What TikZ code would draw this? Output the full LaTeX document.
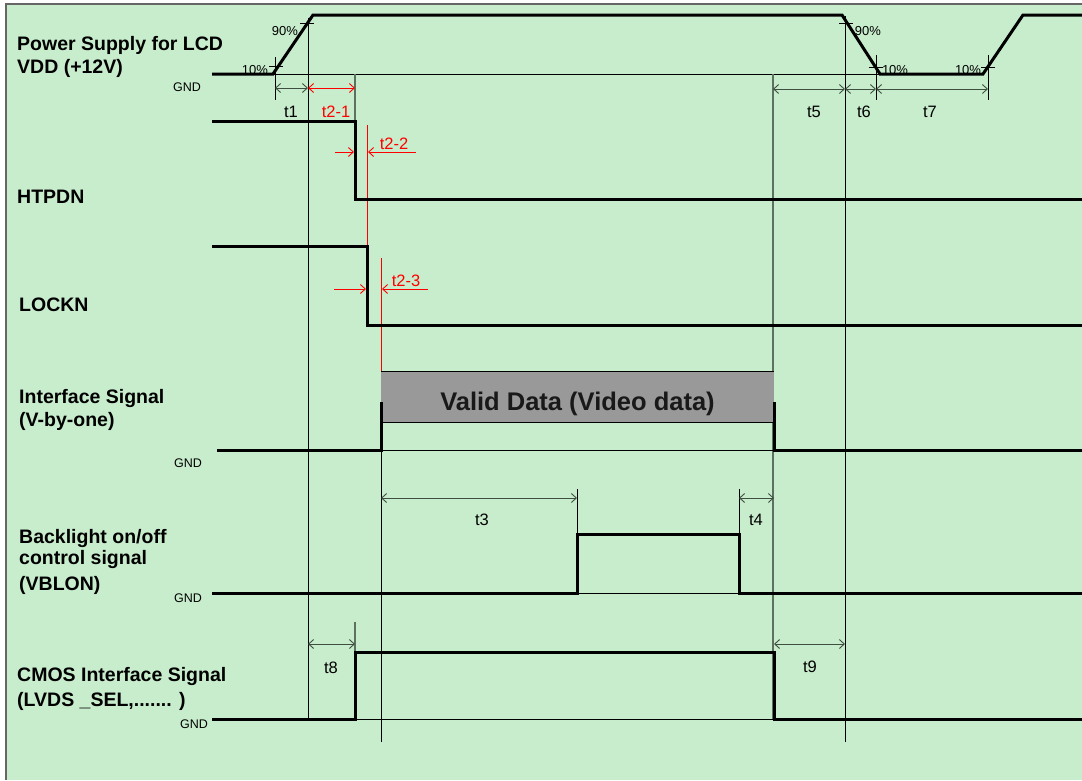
\documentclass[tikz,border=0pt]{standalone}
\usepackage{fontspec}
\setmainfont{Liberation Sans}
\usetikzlibrary{arrows.meta}
\definecolor{bg}{HTML}{C8EDCC}
\definecolor{boxgray}{HTML}{999999}
\definecolor{framecol}{HTML}{666666}
\definecolor{dimcol}{HTML}{3E4E40}
\definecolor{softcol}{HTML}{5C725E}
\definecolor{tred}{HTML}{FF0000}
\tikzset{
  sig/.style={line width=3pt, line join=miter},
  guide/.style={line width=0.9pt, black},
  softguide/.style={line width=1.2pt, softcol},
  redguide/.style={line width=0.9pt, tred},
  barb/.tip={Straight Barb[length=5pt,width=9pt]},
  dimarrow/.style={line width=0.9pt, dimcol, barb-barb},
  reddim/.style={line width=0.9pt, tred, barb-barb},
  redpoint/.style={line width=0.9pt, tred, -barb},
  sigtext/.style={font=\fontsize{19.5}{22}\selectfont\bfseries, anchor=base west, inner sep=0pt},
  tlab/.style={font=\fontsize{16.5}{19}\selectfont, inner sep=0pt},
  redlab/.style={tlab, text=tred},
  pct/.style={font=\fontsize{13}{15}\selectfont, inner sep=0pt},
  gndlab/.style={font=\fontsize{12.5}{14}\selectfont, inner sep=0pt},
}
\begin{document}
\begin{tikzpicture}[x=1pt,y=-1pt]
\useasboundingbox (0,0) rectangle (1082,780);
\fill[white] (0,0) rectangle (1082,780);
\fill[bg] (6,4) rectangle (1082,780);
\draw[framecol, line width=2pt] (6,780) -- (6,4) -- (1082,4);

% ---------- guide lines ----------
\draw[guide] (273,74) -- (880,74);
\draw[guide] (275,57) -- (275,100);
\draw[guide] (308,18) -- (308,719);
\draw[softguide] (355,74) -- (355,121);
\draw[softguide] (773,74) -- (773,719);
\draw[guide] (845,16) -- (845,742);
\draw[guide] (876,55) -- (876,100);
\draw[guide] (988,55) -- (988,100);
\draw[guide] (381,422) -- (381,742);
\draw[softguide] (355,622) -- (355,652);
\draw[guide] (577,489) -- (577,534);
\draw[guide] (739,489) -- (739,534);
\draw[redguide] (367,125) -- (367,246);
\draw[redguide] (381,258) -- (381,372);
% percentage ticks
\draw[guide] (269,66) -- (283,66);
\draw[guide] (300,23) -- (314,23);
\draw[guide] (839,23) -- (853,23);
\draw[guide] (869,67) -- (883,67);
\draw[guide] (981,67) -- (995,67);

% ---------- thin baselines ----------
\draw[guide] (381,450) -- (774,450);
\draw[guide] (577,593) -- (739,593);
\draw[guide] (355,719) -- (774,719);

% ---------- valid data box ----------
\node[fill=boxgray, minimum width=393pt, minimum height=50pt, inner sep=0pt] (valid) at (577.5,397) {};
\draw[guide] (valid.north west) -- (valid.north east);
\draw[guide] (valid.south west) -- (valid.south east);
\node[font=\fontsize{25.5}{28}\selectfont\bfseries, text=black!90, anchor=base, inner sep=0pt] (validtext) at (577.5,410.5) {Valid Data (Video data)};

% ---------- signals ----------
\draw[sig] (212,74) -- (273,74) -- (313,15) -- (842,15) -- (880,74) -- (983,74) -- (1023,15) -- (1084,15);
\draw[sig] (212,121) -- (355,121) -- (355,199) -- (1084,199);
\draw[sig] (212,246) -- (367,246) -- (367,325) -- (1084,325);
\draw[sig] (217,450) -- (381,450) -- (381,402);
\draw[sig] (774,402) -- (774,450) -- (1084,450);
\draw[sig] (212,593) -- (577,593) -- (577,534) -- (739,534) -- (739,593) -- (1084,593);
\draw[sig] (212,719) -- (355,719) -- (355,652) -- (774,652) -- (774,719) -- (1084,719);

% ---------- dimension arrows ----------
\coordinate (a1) at (275,88);
\coordinate (a2) at (308,88);
\coordinate (a3) at (355,88);
\draw[dimarrow] (a1) -- (a2);
\draw[reddim] (a2) -- (a3);
\coordinate (b1) at (773,89);
\coordinate (b2) at (845,89);
\coordinate (b3) at (876,89);
\coordinate (b4) at (988,89);
\draw[dimarrow] (b1) -- (b2);
\draw[dimarrow] (b2) -- (b3);
\draw[dimarrow] (b3) -- (b4);
\coordinate (c1) at (335,152);
\coordinate (c2) at (354,152);
\coordinate (c3) at (416,152);
\coordinate (c4) at (368,152);
\draw[redpoint] (c1) -- (c2);
\draw[redpoint] (c3) -- (c4);
\coordinate (d1) at (334,289);
\coordinate (d2) at (366,289);
\coordinate (d3) at (428,289);
\coordinate (d4) at (382,289);
\draw[redpoint] (d1) -- (d2);
\draw[redpoint] (d3) -- (d4);
\coordinate (e1) at (381,498);
\coordinate (e2) at (577,498);
\coordinate (e3) at (739,498);
\coordinate (e4) at (774,498);
\draw[dimarrow] (e1) -- (e2);
\draw[dimarrow] (e3) -- (e4);
\coordinate (f1) at (308,644);
\coordinate (f2) at (355,644);
\coordinate (f3) at (774,644);
\coordinate (f4) at (845,644);
\draw[dimarrow] (f1) -- (f2);
\draw[dimarrow] (f3) -- (f4);

% ---------- time labels ----------
\node[tlab] (t1) at (291,112) {t1};
\node[redlab] (t21) at (336,112) {t2-1};
\node[redlab] (t22) at (394,144) {t2-2};
\node[redlab] (t23) at (406,281) {t2-3};
\node[tlab] (t5) at (814,112) {t5};
\node[tlab] (t6) at (864,112) {t6};
\node[tlab] (t7) at (930,112) {t7};
\node[tlab] (t3) at (482,520) {t3};
\node[tlab] (t4) at (756,520) {t4};
\node[tlab] (t8) at (331,668) {t8};
\node[tlab] (t9) at (810,667) {t9};

% ---------- percent labels ----------
\node[pct] (p1) at (285,31) {90\%};
\node[pct] (p2) at (255,70) {10\%};
\node[pct] (p3) at (868,31) {90\%};
\node[pct] (p4) at (895,70) {10\%};
\node[pct] (p5) at (968,70) {10\%};

% ---------- GND labels ----------
\node[gndlab] (g1) at (187,87) {GND};
\node[gndlab] (g2) at (188,463) {GND};
\node[gndlab] (g3) at (188,598) {GND};
\node[gndlab] (g4) at (194,724) {GND};

% ---------- signal names ----------
\node[sigtext] (n1) at (17,50) {Power Supply for LCD};
\node[sigtext] (n2) at (17,73) {VDD (+12V)};
\node[sigtext] (n3) at (17,203) {HTPDN};
\node[sigtext] (n4) at (19,311) {LOCKN};
\node[sigtext] (n5) at (19,403) {Interface Signal};
\node[sigtext] (n6) at (19,426) {(V-by-one)};
\node[sigtext] (n7) at (19,543) {Backlight on/off};
\node[sigtext] (n8) at (19,564) {control signal};
\node[sigtext] (n9) at (19,590) {(VBLON)};
\node[sigtext] (n10) at (17,681) {CMOS Interface Signal};
\node[sigtext] (n11) at (17,706) {(LVDS \_SEL,....... )};
\end{tikzpicture}
\end{document}
